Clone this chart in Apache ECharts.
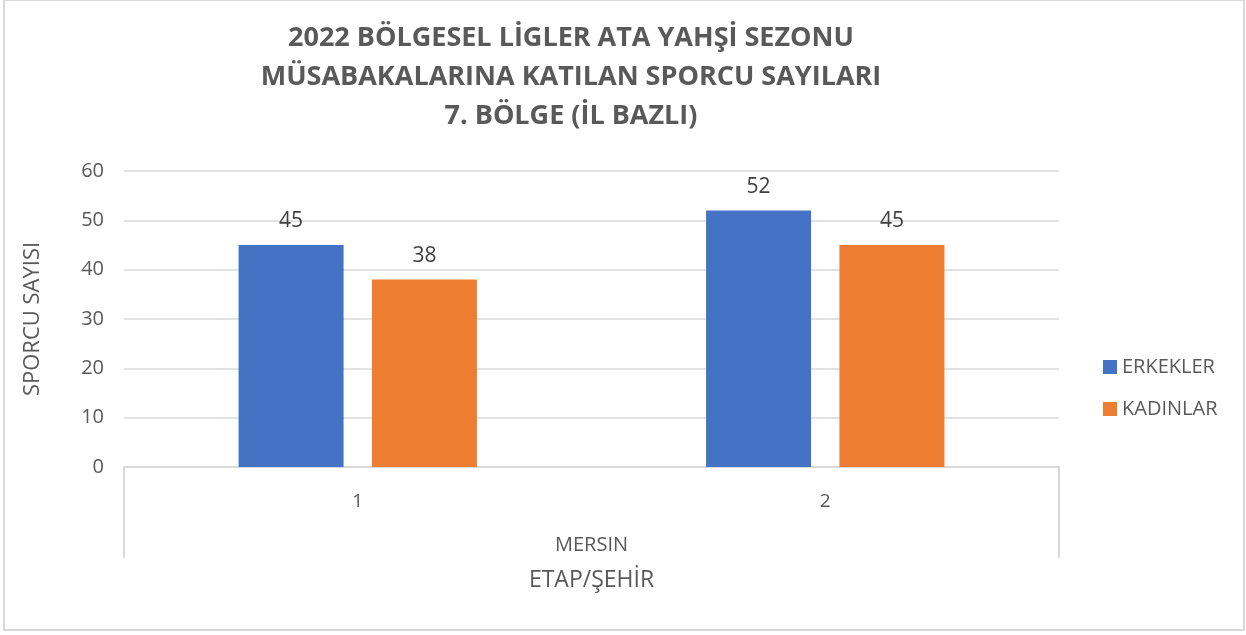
<!DOCTYPE html>
<html>
<head>
<meta charset="utf-8">
<script src="https://cdn.jsdelivr.net/npm/echarts@6/dist/echarts.min.js"></script>
<style>
  html, body { margin: 0; padding: 0; background: #fff; }
  #chart { width: 1246px; height: 635px; }
</style>
</head>
<body>
<div id="chart"></div>
<script>
// Stage numbers (level 1) and the province they belong to (level 2)
const stages = ['1', '2'];
const provinces = ['MERSIN'];
const erkekler = [45, 52];
const kadinlar = [38, 45];
const yTicks = { min: 0, max: 60, interval: 10 };

const titleLines = [
  '2022 BÖLGESEL LİGLER ATA YAHŞİ SEZONU',
  'MÜSABAKALARINA KATILAN SPORCU SAYILARI',
  '7. BÖLGE (İL BAZLI)'
];

const FONT = '"Open Sans", "Noto Sans", sans-serif';
const GRAY = '#595959';
const LINE = '#d9d9d9';

const chart = echarts.init(document.getElementById('chart'), null, { renderer: 'canvas' });

chart.setOption({
  animation: false,
  textStyle: { fontFamily: FONT },
  graphic: [{
    type: 'rect',
    shape: { x: 4, y: 0, width: 1240, height: 630 },
    style: { fill: 'none', stroke: LINE, lineWidth: 2 },
    silent: true
  }],
  title: {
    text: titleLines.join('\n'),
    left: 566,
    top: 14,
    textAlign: 'center',
    textStyle: {
      fontFamily: FONT,
      fontSize: 27,
      fontWeight: 'bold',
      color: GRAY,
      lineHeight: 39
    }
  },
  legend: {
    orient: 'vertical',
    left: 1098,
    top: 352,
    itemWidth: 14,
    itemHeight: 14,
    itemGap: 22,
    icon: 'rect',
    textStyle: { fontFamily: FONT, fontSize: 20, color: GRAY },
    data: ['ERKEKLER', 'KADINLAR']
  },
  grid: { left: 124, right: 187, top: 171, bottom: 168, containLabel: false },
  xAxis: [
    {
      type: 'category',
      data: stages,
      position: 'bottom',
      axisLine: { show: true, lineStyle: { color: LINE, width: 2 } },
      axisTick: { show: false },
      axisLabel: { fontFamily: FONT, fontSize: 19, color: GRAY, margin: 25 }
    },
    {
      type: 'category',
      data: provinces,
      position: 'bottom',
      axisLine: { show: false },
      axisTick: { show: true, length: 91, lineStyle: { color: LINE, width: 2 } },
      axisLabel: { fontFamily: FONT, fontSize: 20, color: GRAY, margin: 68 },
      name: 'ETAP/ŞEHİR',
      nameLocation: 'middle',
      nameGap: 102,
      nameTextStyle: { fontFamily: FONT, fontSize: 23, color: GRAY }
    }
  ],
  yAxis: {
    type: 'value',
    min: yTicks.min,
    max: yTicks.max,
    interval: yTicks.interval,
    axisLine: { show: false },
    axisTick: { show: false },
    splitLine: { lineStyle: { color: LINE, width: 1.5 } },
    axisLabel: { fontFamily: FONT, fontSize: 20, color: GRAY, margin: 20 },
    name: 'SPORCU SAYISI',
    nameLocation: 'middle',
    nameGap: 80,
    nameRotate: 90,
    nameTextStyle: { fontFamily: FONT, fontSize: 22, color: GRAY }
  },
  series: [
    {
      name: 'ERKEKLER',
      type: 'bar',
      xAxisIndex: 0,
      data: erkekler,
      barWidth: 105,
      barGap: '27%',
      itemStyle: { color: '#4472C4' },
      label: { show: true, position: 'top', distance: 13, fontFamily: FONT, fontSize: 21, color: '#404040' }
    },
    {
      name: 'KADINLAR',
      type: 'bar',
      xAxisIndex: 0,
      data: kadinlar,
      barWidth: 105,
      barGap: '27%',
      itemStyle: { color: '#ED7D31' },
      label: { show: true, position: 'top', distance: 13, fontFamily: FONT, fontSize: 21, color: '#404040' }
    }
  ]
});
</script>
</body>
</html>
